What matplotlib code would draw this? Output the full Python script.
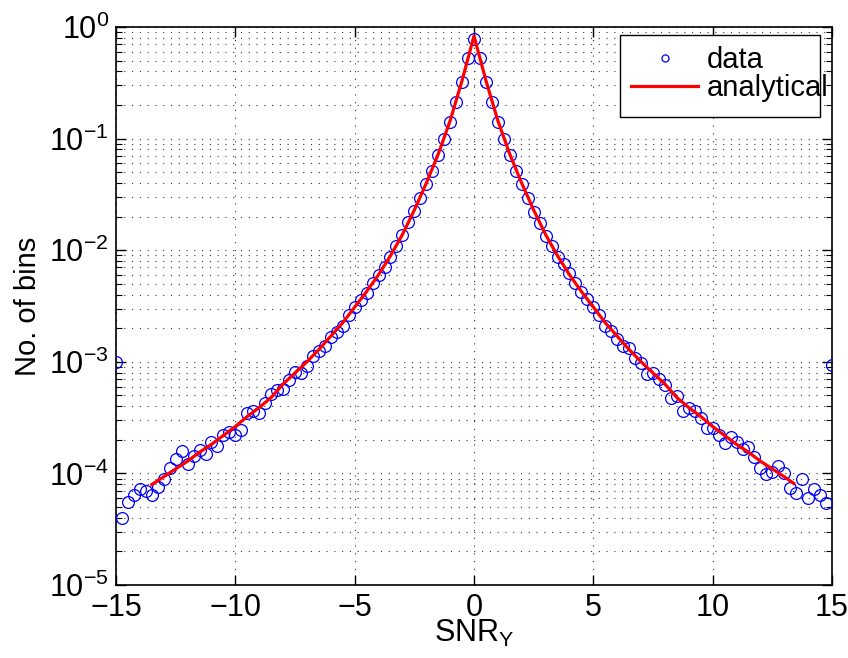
import numpy as np
import matplotlib
matplotlib.use("Agg")
import matplotlib.pyplot as plt
from matplotlib.ticker import LogLocator, NullFormatter
from matplotlib.patches import Rectangle

plt.rcParams['font.family'] = ['Liberation Sans', 'DejaVu Sans']
plt.rcParams['mathtext.fontset'] = 'custom'
plt.rcParams['mathtext.rm'] = 'Liberation Sans'
plt.rcParams['mathtext.it'] = 'Liberation Sans:italic'
plt.rcParams['mathtext.default'] = 'regular'

# histogram bin centres (step 0.25, end bins hold the overflow)
snr_bins = np.arange(-15, 15.001, 0.25)

# log10 of the bin counts
log_left = [-3.005, -4.40, -4.26, -4.19, -4.14, -4.16, -4.19, -4.12, -4.05, -3.95,
            -3.87, -3.80, -3.92, -3.84, -3.79, -3.83, -3.72, -3.75, -3.66, -3.63,
            -3.66, -3.61, -3.46, -3.44, -3.46, -3.37, -3.29, -3.25, -3.24, -3.16,
            -3.09, -3.10, -3.04, -2.95, -2.90, -2.86, -2.78, -2.73, -2.68, -2.58,
            -2.512, -2.446, -2.380, -2.291, -2.222, -2.148, -2.058, -1.959, -1.864, -1.744,
            -1.646, -1.529, -1.410, -1.290, -1.147, -1.004, -0.848, -0.675, -0.490, -0.281]
log_mid = [-0.107]
log_right = [-0.281, -0.490, -0.675, -0.848, -1.004, -1.147, -1.290, -1.410, -1.536, -1.655,
             -1.76, -1.87, -1.96, -2.058, -2.124, -2.207, -2.297, -2.372, -2.440, -2.512,
             -2.581, -2.679, -2.724, -2.799, -2.858, -2.879, -2.969, -3.014, -3.109, -3.103,
             -3.157, -3.208, -3.327, -3.304, -3.441, -3.417, -3.441, -3.507, -3.596, -3.596,
             -3.656, -3.731, -3.677, -3.716, -3.781, -3.766, -3.856, -3.955, -4.009, -3.985,
             -3.931, -4.000, -4.128, -4.179, -4.053, -4.223, -4.143, -4.194, -4.268, -3.029]
data_counts = 10.0 ** np.array(log_left + log_mid + log_right)

# analytical curve, log10 values at a few SNR points
ana_x = [-13.5, -13, -12.5, -12, -11.5, -11, -10.5, -10, -9.5, -9, -8.5, -8, -7.5, -7,
         -6.5, -6, -5.5, -5, -4.5, -4, -3.5, -3, -2.5, -2, -1.5, -1, -0.5, -0.25, 0,
         0.25, 0.5, 1, 1.5, 2, 2.5, 3, 3.5, 4, 4.5, 5, 5.5, 6, 6.5, 7, 7.5, 8, 8.5, 9,
         9.5, 10, 10.5, 11, 11.5, 12, 12.5, 13, 13.4]
ana_log = [-4.10, -4.03, -3.96, -3.89, -3.81, -3.74, -3.66, -3.58, -3.49, -3.41, -3.32,
           -3.20, -3.10, -3.00, -2.89, -2.77, -2.65, -2.51, -2.37, -2.22, -2.05, -1.86,
           -1.64, -1.40, -1.14, -0.84, -0.48, -0.28, -0.08,
           -0.28, -0.48, -0.84, -1.14, -1.40, -1.64, -1.86, -2.05, -2.22, -2.37, -2.51,
           -2.65, -2.77, -2.89, -3.00, -3.10, -3.20, -3.32, -3.41, -3.49, -3.58, -3.66,
           -3.74, -3.81, -3.89, -3.96, -4.03, -4.09]
ana_counts = 10.0 ** np.array(ana_log)

W, H = 848, 658
fig = plt.figure(figsize=(W / 100, H / 100), dpi=100)
ax = fig.add_axes([116 / W, 1 - 585 / H, (832 - 116) / W, (585 - 27) / H])

ax.semilogy(snr_bins, data_counts, 'o', mfc='none', mec='#0000ff', mew=0.9,
            ms=8.5, label='data', zorder=3)
ax.semilogy(ana_x, ana_counts, '-', color='#ff0000', lw=2.3, label='analytical', zorder=4)

ax.set_xlim(-15, 15)
ax.set_ylim(1e-5, 1e0)
ax.set_xticks([-15, -10, -5, 0, 5, 10, 15])
ax.set_xticklabels(['\u221215', '\u221210', '\u22125', '0', '5', '10', '15'])
ax.yaxis.set_major_locator(LogLocator(base=10, numticks=10))
ax.yaxis.set_minor_locator(LogLocator(base=10, subs=np.arange(2, 10), numticks=20))
ax.yaxis.set_minor_formatter(NullFormatter())

dots = (0, (1, 6))
ax.grid(True, which='major', axis='both', linestyle=dots, color='0.2', lw=0.8)
ax.grid(True, which='minor', axis='y', linestyle=dots, color='0.2', lw=0.8)
ax.tick_params(which='both', direction='in', top=True, right=True, labelsize=22)
ax.tick_params(axis='x', pad=6)
ax.tick_params(axis='y', pad=5)
ax.tick_params(which='major', length=7, width=1)
ax.tick_params(which='minor', length=4, width=0.8)
for s in ax.spines.values():
    s.set_linewidth(1.2)

ax.set_xlabel('SNR$_{Y}$', fontsize=22, labelpad=-4)
ax.set_ylabel('No. of bins', fontsize=21, labelpad=5)

# MATLAB-style legend: white box, text running past its right edge
box = Rectangle((620 / W, 1 - 117 / H), 200 / W, 82 / H, transform=fig.transFigure,
                facecolor='white', edgecolor='black', lw=1.0, zorder=5)
fig.patches.append(box)
leg = ax.legend(loc='upper left', bbox_to_anchor=(631 / W, 1 - 46 / H),
                bbox_transform=fig.transFigure, fontsize=21, frameon=False,
                borderpad=0, borderaxespad=0, handlelength=2.3, handletextpad=0.3,
                labelspacing=0.0, markerscale=0.6)
leg.set_zorder(6)
fig.legends.append(ax.get_legend())
ax.get_legend().remove()

fig.savefig('out.png', dpi=100)
